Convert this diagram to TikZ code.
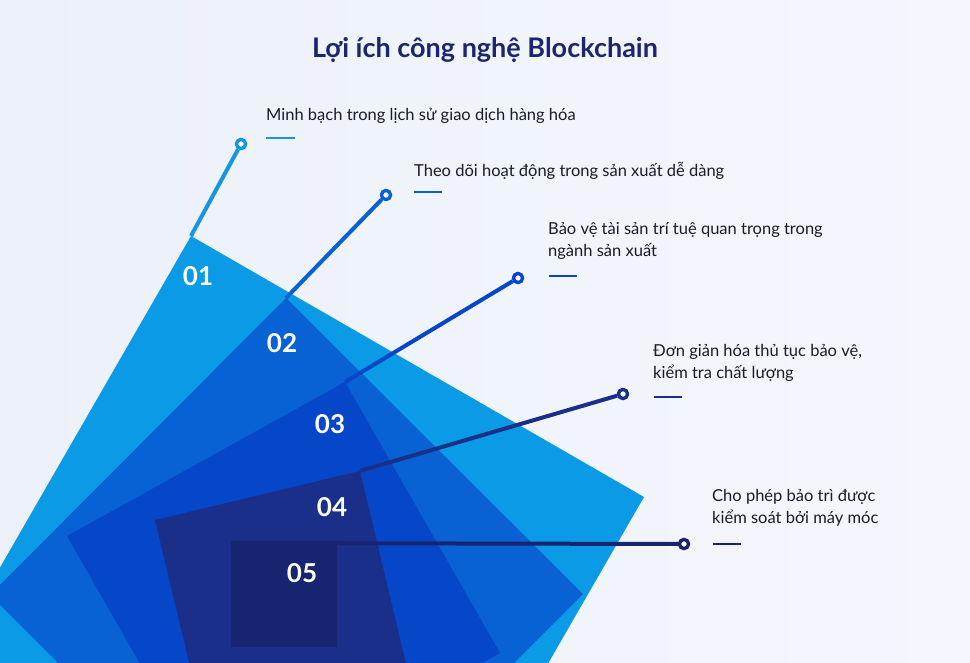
\documentclass[tikz,border=0pt]{standalone}
\usepackage{fontspec}
\setmainfont{Lato}
\definecolor{cA}{HTML}{0A9AE6}
\definecolor{cB}{HTML}{0862D4}
\definecolor{cC}{HTML}{0646C8}
\definecolor{cD}{HTML}{1A2F8A}
\definecolor{cE}{HTML}{172470}
\definecolor{lA}{HTML}{1496E2}
\definecolor{txt}{HTML}{1B1B2B}
\definecolor{ttl}{HTML}{1B2570}
\definecolor{bgL}{HTML}{ECF0F8}
\definecolor{bgR}{HTML}{F4F7FD}
\begin{document}
\begin{tikzpicture}[x=1pt,y=-1pt,
  dotnode/.style={circle,draw=#1,line width=3.2pt,fill=white,minimum size=9pt,inner sep=0pt},
  conn/.style={line width=4pt,draw=#1},
  num/.style={text=white,font=\bfseries\fontsize{26}{26}\selectfont},
  lbl/.style={anchor=north west,text=txt,align=left,inner sep=0pt,font=\fontsize{16.5}{22.5}\selectfont},
  dashl/.style={line width=1.5pt,draw=#1}]
\shade[left color=bgL,right color=bgR] (0,0) rectangle (970,663);
\useasboundingbox (0,0) rectangle (970,663);
\clip (0,0) rectangle (970,663);
\node[text=ttl,font=\bfseries\fontsize{27}{27}\selectfont] (title) at (485,50) {Lợi ích công nghệ Blockchain};
% shape 1
\coordinate (v1) at (191,236);
\fill[cA] (v1) -- (644,497) -- (383,950) -- (-70,689) -- cycle;
\node[dotnode=lA] (d1) at (241,144) {};
\draw[conn=lA] (d1) -- (v1);
% shape 2
\coordinate (v2) at (286,298);
\fill[cB] (v2) -- (583,594) -- (287,891) -- (-10,595) -- cycle;
\node[dotnode=cB] (d2) at (386,195) {};
\draw[conn=cB] (d2) -- (v2);
% shape 3
\coordinate (v3) at (345,382);
\fill[cC] (v3) -- (500,653) -- (222,807) -- (67,536) -- cycle;
\node[dotnode=cC] (d3) at (518,278) {};
\draw[conn=cC] (d3) -- (v3);
% shape 4
\coordinate (v4) at (360,471);
\fill[cD] (v4) -- (409,676) -- (204,725) -- (155,520) -- cycle;
\node[dotnode=cD] (d4) at (623,394) {};
\draw[conn=cD] (d4) -- (v4);
% shape 5
\coordinate (v5) at (231,543);
\fill[cE] (231,542) rectangle (337,647);
\node[dotnode=cE] (d5) at (684,544) {};
\draw[conn=cE] (d5) -- (v5);
\node[dotnode=cE] at (684,544) {};
\node[dotnode=cD] at (623,394) {};
\node[dotnode=cC] at (518,278) {};
\node[dotnode=cB] at (386,195) {};
\node[dotnode=lA] at (241,144) {};
% numbers
\node[num] (n1) at (198,276) {01};
\node[num] (n2) at (282,343) {02};
\node[num] (n3) at (330,424) {03};
\node[num] (n4) at (332,507) {04};
\node[num] (n5) at (302,573) {05};
% labels
\node[lbl] (t1) at (266,108) {Minh bạch trong lịch sử giao dịch hàng hóa};
\draw[dashl=lA] (266,138) -- (295,138);
\node[lbl] (t2) at (414,162) {Theo dõi hoạt động trong sản xuất dễ dàng};
\draw[dashl=cB] (414,192) -- (442,192);
\node[lbl] (t3) at (548,222) {Bảo vệ tài sản trí tuệ quan trọng trong\\ngành sản xuất};
\draw[dashl=cC] (549,276) -- (577,276);
\node[lbl] (t4) at (653,344) {Đơn giản hóa thủ tục bảo vệ,\\kiểm tra chất lượng};
\draw[dashl=cD] (654,397) -- (682,397);
\node[lbl] (t5) at (712,489) {Cho phép bảo trì được\\kiểm soát bởi máy móc};
\draw[dashl=cE] (713,544) -- (741,544);
\end{tikzpicture}
\end{document}
